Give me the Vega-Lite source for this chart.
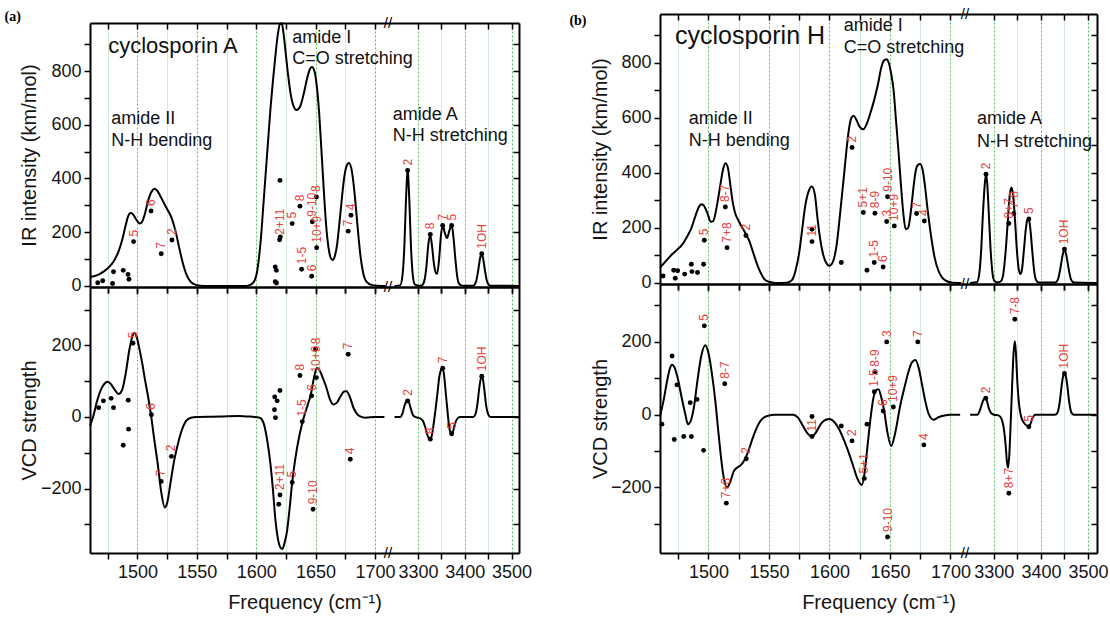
{
"$schema": "https://vega.github.io/schema/vega-lite/v6.json",
"background": "white",
"padding": {"left": 4, "top": 7, "right": 10, "bottom": 5},
"config": {
  "font": "Liberation Sans",
  "view": {"stroke": null},
  "axis": {"labelFont": "Liberation Sans", "labelFontSize": 18, "labelColor": "#151515", "titleFont": "Liberation Sans", "titleFontSize": 20, "titleFontWeight": "normal", "titleColor": "#151515", "domainColor": "#000", "domainWidth": 2, "tickColor": "#000", "tickWidth": 1.5, "tickSize": 6, "grid": false, "labelOverlap": false, "labelFlush": false, "labelBound": false}
},
"datasets": {
"curves": [
{"p":"aIR","s":"L","f":1460,"v":33},{"p":"aIR","s":"L","f":1464,"v":37},{"p":"aIR","s":"L","f":1468,"v":44},{"p":"aIR","s":"L","f":1472,"v":55},{"p":"aIR","s":"L","f":1476,"v":70},{"p":"aIR","s":"L","f":1480,"v":92},{"p":"aIR","s":"L","f":1484,"v":128},{"p":"aIR","s":"L","f":1487,"v":170},{"p":"aIR","s":"L","f":1490,"v":225},{"p":"aIR","s":"L","f":1492,"v":258},{"p":"aIR","s":"L","f":1494,"v":272},{"p":"aIR","s":"L","f":1496,"v":268},{"p":"aIR","s":"L","f":1498,"v":254},{"p":"aIR","s":"L","f":1500,"v":240},{"p":"aIR","s":"L","f":1502,"v":232},{"p":"aIR","s":"L","f":1504,"v":240},{"p":"aIR","s":"L","f":1506,"v":265},{"p":"aIR","s":"L","f":1509,"v":318},{"p":"aIR","s":"L","f":1512,"v":352},{"p":"aIR","s":"L","f":1514.5,"v":362},{"p":"aIR","s":"L","f":1517,"v":352},{"p":"aIR","s":"L","f":1520,"v":328},{"p":"aIR","s":"L","f":1523,"v":302},{"p":"aIR","s":"L","f":1526,"v":278},{"p":"aIR","s":"L","f":1529,"v":250},{"p":"aIR","s":"L","f":1532,"v":205},{"p":"aIR","s":"L","f":1535,"v":145},{"p":"aIR","s":"L","f":1538,"v":88},{"p":"aIR","s":"L","f":1541,"v":45},{"p":"aIR","s":"L","f":1544,"v":20},{"p":"aIR","s":"L","f":1548,"v":6},{"p":"aIR","s":"L","f":1553,"v":1},{"p":"aIR","s":"L","f":1560,"v":0},{"p":"aIR","s":"L","f":1590,"v":0},{"p":"aIR","s":"L","f":1594,"v":2},{"p":"aIR","s":"L","f":1598,"v":15},{"p":"aIR","s":"L","f":1601,"v":60},{"p":"aIR","s":"L","f":1604,"v":180},{"p":"aIR","s":"L","f":1606,"v":300},{"p":"aIR","s":"L","f":1608,"v":420},{"p":"aIR","s":"L","f":1610,"v":540},{"p":"aIR","s":"L","f":1612,"v":660},{"p":"aIR","s":"L","f":1614,"v":760},{"p":"aIR","s":"L","f":1616,"v":850},{"p":"aIR","s":"L","f":1618,"v":930},{"p":"aIR","s":"L","f":1620,"v":975},{"p":"aIR","s":"L","f":1621.5,"v":978},{"p":"aIR","s":"L","f":1623,"v":940},{"p":"aIR","s":"L","f":1625,"v":860},{"p":"aIR","s":"L","f":1627,"v":780},{"p":"aIR","s":"L","f":1629,"v":715},{"p":"aIR","s":"L","f":1631,"v":675},{"p":"aIR","s":"L","f":1634,"v":655},{"p":"aIR","s":"L","f":1637,"v":668},{"p":"aIR","s":"L","f":1640,"v":715},{"p":"aIR","s":"L","f":1643,"v":775},{"p":"aIR","s":"L","f":1645,"v":805},{"p":"aIR","s":"L","f":1647,"v":815},{"p":"aIR","s":"L","f":1649,"v":800},{"p":"aIR","s":"L","f":1651,"v":745},{"p":"aIR","s":"L","f":1653,"v":645},{"p":"aIR","s":"L","f":1655,"v":500},{"p":"aIR","s":"L","f":1657,"v":350},{"p":"aIR","s":"L","f":1659,"v":220},{"p":"aIR","s":"L","f":1661,"v":140},{"p":"aIR","s":"L","f":1663,"v":102},{"p":"aIR","s":"L","f":1664.5,"v":97},{"p":"aIR","s":"L","f":1666,"v":108},{"p":"aIR","s":"L","f":1668,"v":150},{"p":"aIR","s":"L","f":1670,"v":230},{"p":"aIR","s":"L","f":1672,"v":320},{"p":"aIR","s":"L","f":1674,"v":400},{"p":"aIR","s":"L","f":1676,"v":445},{"p":"aIR","s":"L","f":1678,"v":458},{"p":"aIR","s":"L","f":1680,"v":440},{"p":"aIR","s":"L","f":1682,"v":380},{"p":"aIR","s":"L","f":1684,"v":290},{"p":"aIR","s":"L","f":1686,"v":190},{"p":"aIR","s":"L","f":1688,"v":105},{"p":"aIR","s":"L","f":1690,"v":50},{"p":"aIR","s":"L","f":1693,"v":15},{"p":"aIR","s":"L","f":1697,"v":4},{"p":"aIR","s":"L","f":1702,"v":1},{"p":"aIR","s":"L","f":1709,"v":0},
{"p":"aIR","s":"R","f":3250,"v":0},{"p":"aIR","s":"R","f":3262,"v":2},{"p":"aIR","s":"R","f":3267,"v":40},{"p":"aIR","s":"R","f":3271,"v":150},{"p":"aIR","s":"R","f":3274,"v":300},{"p":"aIR","s":"R","f":3276.5,"v":400},{"p":"aIR","s":"R","f":3278,"v":432},{"p":"aIR","s":"R","f":3279.5,"v":400},{"p":"aIR","s":"R","f":3282,"v":300},{"p":"aIR","s":"R","f":3285,"v":150},{"p":"aIR","s":"R","f":3289,"v":40},{"p":"aIR","s":"R","f":3293,"v":6},{"p":"aIR","s":"R","f":3300,"v":1},{"p":"aIR","s":"R","f":3308,"v":2},{"p":"aIR","s":"R","f":3313,"v":15},{"p":"aIR","s":"R","f":3318,"v":70},{"p":"aIR","s":"R","f":3322,"v":150},{"p":"aIR","s":"R","f":3326,"v":192},{"p":"aIR","s":"R","f":3330,"v":150},{"p":"aIR","s":"R","f":3334,"v":85},{"p":"aIR","s":"R","f":3338,"v":50},{"p":"aIR","s":"R","f":3341,"v":45},{"p":"aIR","s":"R","f":3345,"v":95},{"p":"aIR","s":"R","f":3349,"v":185},{"p":"aIR","s":"R","f":3353,"v":228},{"p":"aIR","s":"R","f":3357,"v":200},{"p":"aIR","s":"R","f":3362,"v":178},{"p":"aIR","s":"R","f":3367,"v":205},{"p":"aIR","s":"R","f":3372,"v":228},{"p":"aIR","s":"R","f":3376,"v":180},{"p":"aIR","s":"R","f":3380,"v":100},{"p":"aIR","s":"R","f":3384,"v":35},{"p":"aIR","s":"R","f":3388,"v":8},{"p":"aIR","s":"R","f":3395,"v":1},{"p":"aIR","s":"R","f":3418,"v":1},{"p":"aIR","s":"R","f":3424,"v":15},{"p":"aIR","s":"R","f":3429,"v":60},{"p":"aIR","s":"R","f":3433,"v":105},{"p":"aIR","s":"R","f":3436,"v":120},{"p":"aIR","s":"R","f":3439,"v":105},{"p":"aIR","s":"R","f":3443,"v":60},{"p":"aIR","s":"R","f":3448,"v":15},{"p":"aIR","s":"R","f":3454,"v":1},{"p":"aIR","s":"R","f":3515,"v":0},
{"p":"aVCD","s":"L","f":1460,"v":-25},{"p":"aVCD","s":"L","f":1463,"v":5},{"p":"aVCD","s":"L","f":1466,"v":45},{"p":"aVCD","s":"L","f":1469,"v":75},{"p":"aVCD","s":"L","f":1472,"v":92},{"p":"aVCD","s":"L","f":1475,"v":98},{"p":"aVCD","s":"L","f":1478,"v":90},{"p":"aVCD","s":"L","f":1481,"v":75},{"p":"aVCD","s":"L","f":1484,"v":64},{"p":"aVCD","s":"L","f":1487,"v":75},{"p":"aVCD","s":"L","f":1490,"v":120},{"p":"aVCD","s":"L","f":1493,"v":185},{"p":"aVCD","s":"L","f":1496,"v":228},{"p":"aVCD","s":"L","f":1497.5,"v":235},{"p":"aVCD","s":"L","f":1499,"v":228},{"p":"aVCD","s":"L","f":1501,"v":200},{"p":"aVCD","s":"L","f":1504,"v":150},{"p":"aVCD","s":"L","f":1506,"v":110},{"p":"aVCD","s":"L","f":1509,"v":55},{"p":"aVCD","s":"L","f":1511.7,"v":-2},{"p":"aVCD","s":"L","f":1514,"v":-60},{"p":"aVCD","s":"L","f":1517,"v":-130},{"p":"aVCD","s":"L","f":1520,"v":-210},{"p":"aVCD","s":"L","f":1523,"v":-253},{"p":"aVCD","s":"L","f":1525,"v":-240},{"p":"aVCD","s":"L","f":1528,"v":-180},{"p":"aVCD","s":"L","f":1531,"v":-120},{"p":"aVCD","s":"L","f":1534,"v":-76},{"p":"aVCD","s":"L","f":1537,"v":-40},{"p":"aVCD","s":"L","f":1541,"v":-11},{"p":"aVCD","s":"L","f":1545,"v":-2},{"p":"aVCD","s":"L","f":1550,"v":0},{"p":"aVCD","s":"L","f":1570,"v":1},{"p":"aVCD","s":"L","f":1585,"v":3},{"p":"aVCD","s":"L","f":1595,"v":1},{"p":"aVCD","s":"L","f":1603,"v":-2},{"p":"aVCD","s":"L","f":1606,"v":-15},{"p":"aVCD","s":"L","f":1609,"v":-60},{"p":"aVCD","s":"L","f":1612,"v":-132},{"p":"aVCD","s":"L","f":1614,"v":-200},{"p":"aVCD","s":"L","f":1616,"v":-281},{"p":"aVCD","s":"L","f":1618,"v":-335},{"p":"aVCD","s":"L","f":1620,"v":-362},{"p":"aVCD","s":"L","f":1622,"v":-369},{"p":"aVCD","s":"L","f":1624,"v":-350},{"p":"aVCD","s":"L","f":1626,"v":-318},{"p":"aVCD","s":"L","f":1628,"v":-260},{"p":"aVCD","s":"L","f":1630.3,"v":-183},{"p":"aVCD","s":"L","f":1633,"v":-115},{"p":"aVCD","s":"L","f":1636,"v":-58},{"p":"aVCD","s":"L","f":1638,"v":-28},{"p":"aVCD","s":"L","f":1640,"v":-2},{"p":"aVCD","s":"L","f":1643,"v":30},{"p":"aVCD","s":"L","f":1646,"v":63},{"p":"aVCD","s":"L","f":1649,"v":115},{"p":"aVCD","s":"L","f":1651,"v":137},{"p":"aVCD","s":"L","f":1653,"v":132},{"p":"aVCD","s":"L","f":1656,"v":110},{"p":"aVCD","s":"L","f":1659,"v":83},{"p":"aVCD","s":"L","f":1662,"v":50},{"p":"aVCD","s":"L","f":1665,"v":35},{"p":"aVCD","s":"L","f":1668,"v":40},{"p":"aVCD","s":"L","f":1671,"v":58},{"p":"aVCD","s":"L","f":1674,"v":71},{"p":"aVCD","s":"L","f":1676,"v":72},{"p":"aVCD","s":"L","f":1679,"v":55},{"p":"aVCD","s":"L","f":1682,"v":25},{"p":"aVCD","s":"L","f":1685,"v":8},{"p":"aVCD","s":"L","f":1688,"v":1},{"p":"aVCD","s":"L","f":1692,"v":-2},{"p":"aVCD","s":"L","f":1700,"v":0},{"p":"aVCD","s":"L","f":1708,"v":0},
{"p":"aVCD","s":"R","f":3250,"v":0},{"p":"aVCD","s":"R","f":3262,"v":0},{"p":"aVCD","s":"R","f":3267,"v":10},{"p":"aVCD","s":"R","f":3271,"v":30},{"p":"aVCD","s":"R","f":3275,"v":43},{"p":"aVCD","s":"R","f":3278,"v":45},{"p":"aVCD","s":"R","f":3281,"v":40},{"p":"aVCD","s":"R","f":3285,"v":22},{"p":"aVCD","s":"R","f":3289,"v":6},{"p":"aVCD","s":"R","f":3294,"v":0},{"p":"aVCD","s":"R","f":3300,"v":-2},{"p":"aVCD","s":"R","f":3306,"v":-5},{"p":"aVCD","s":"R","f":3311,"v":-12},{"p":"aVCD","s":"R","f":3316,"v":-30},{"p":"aVCD","s":"R","f":3320,"v":-50},{"p":"aVCD","s":"R","f":3324,"v":-60},{"p":"aVCD","s":"R","f":3327,"v":-62},{"p":"aVCD","s":"R","f":3330,"v":-50},{"p":"aVCD","s":"R","f":3334,"v":-15},{"p":"aVCD","s":"R","f":3338,"v":25},{"p":"aVCD","s":"R","f":3342,"v":70},{"p":"aVCD","s":"R","f":3346,"v":115},{"p":"aVCD","s":"R","f":3350,"v":133},{"p":"aVCD","s":"R","f":3353,"v":136},{"p":"aVCD","s":"R","f":3356,"v":115},{"p":"aVCD","s":"R","f":3360,"v":60},{"p":"aVCD","s":"R","f":3364,"v":5},{"p":"aVCD","s":"R","f":3367,"v":-30},{"p":"aVCD","s":"R","f":3370,"v":-45},{"p":"aVCD","s":"R","f":3372,"v":-47},{"p":"aVCD","s":"R","f":3375,"v":-40},{"p":"aVCD","s":"R","f":3379,"v":-20},{"p":"aVCD","s":"R","f":3384,"v":-5},{"p":"aVCD","s":"R","f":3390,"v":0},{"p":"aVCD","s":"R","f":3418,"v":0},{"p":"aVCD","s":"R","f":3423,"v":8},{"p":"aVCD","s":"R","f":3427,"v":35},{"p":"aVCD","s":"R","f":3431,"v":80},{"p":"aVCD","s":"R","f":3434,"v":105},{"p":"aVCD","s":"R","f":3436,"v":114},{"p":"aVCD","s":"R","f":3439,"v":105},{"p":"aVCD","s":"R","f":3442,"v":75},{"p":"aVCD","s":"R","f":3446,"v":30},{"p":"aVCD","s":"R","f":3450,"v":8},{"p":"aVCD","s":"R","f":3455,"v":0},{"p":"aVCD","s":"R","f":3515,"v":0},
{"p":"bIR","s":"L","f":1460,"v":56},{"p":"bIR","s":"L","f":1465,"v":80},{"p":"bIR","s":"L","f":1470,"v":104},{"p":"bIR","s":"L","f":1474,"v":120},{"p":"bIR","s":"L","f":1478,"v":137},{"p":"bIR","s":"L","f":1482,"v":165},{"p":"bIR","s":"L","f":1486,"v":200},{"p":"bIR","s":"L","f":1489,"v":240},{"p":"bIR","s":"L","f":1492,"v":275},{"p":"bIR","s":"L","f":1494,"v":286},{"p":"bIR","s":"L","f":1496,"v":282},{"p":"bIR","s":"L","f":1499,"v":255},{"p":"bIR","s":"L","f":1502,"v":222},{"p":"bIR","s":"L","f":1504,"v":225},{"p":"bIR","s":"L","f":1507,"v":280},{"p":"bIR","s":"L","f":1510,"v":360},{"p":"bIR","s":"L","f":1512,"v":410},{"p":"bIR","s":"L","f":1514,"v":435},{"p":"bIR","s":"L","f":1516,"v":420},{"p":"bIR","s":"L","f":1518,"v":360},{"p":"bIR","s":"L","f":1520,"v":295},{"p":"bIR","s":"L","f":1522,"v":255},{"p":"bIR","s":"L","f":1525,"v":225},{"p":"bIR","s":"L","f":1528,"v":200},{"p":"bIR","s":"L","f":1531,"v":178},{"p":"bIR","s":"L","f":1534,"v":150},{"p":"bIR","s":"L","f":1537,"v":110},{"p":"bIR","s":"L","f":1540,"v":70},{"p":"bIR","s":"L","f":1543,"v":38},{"p":"bIR","s":"L","f":1546,"v":15},{"p":"bIR","s":"L","f":1550,"v":4},{"p":"bIR","s":"L","f":1555,"v":0},{"p":"bIR","s":"L","f":1565,"v":1},{"p":"bIR","s":"L","f":1569,"v":10},{"p":"bIR","s":"L","f":1572,"v":45},{"p":"bIR","s":"L","f":1575,"v":110},{"p":"bIR","s":"L","f":1577,"v":177},{"p":"bIR","s":"L","f":1580,"v":280},{"p":"bIR","s":"L","f":1583,"v":335},{"p":"bIR","s":"L","f":1585.5,"v":350},{"p":"bIR","s":"L","f":1588,"v":320},{"p":"bIR","s":"L","f":1590,"v":240},{"p":"bIR","s":"L","f":1592,"v":170},{"p":"bIR","s":"L","f":1595,"v":100},{"p":"bIR","s":"L","f":1598,"v":68},{"p":"bIR","s":"L","f":1600,"v":62},{"p":"bIR","s":"L","f":1603,"v":78},{"p":"bIR","s":"L","f":1606,"v":140},{"p":"bIR","s":"L","f":1609,"v":260},{"p":"bIR","s":"L","f":1612,"v":390},{"p":"bIR","s":"L","f":1614,"v":480},{"p":"bIR","s":"L","f":1616,"v":555},{"p":"bIR","s":"L","f":1618,"v":598},{"p":"bIR","s":"L","f":1620,"v":607},{"p":"bIR","s":"L","f":1622,"v":595},{"p":"bIR","s":"L","f":1625,"v":567},{"p":"bIR","s":"L","f":1628,"v":558},{"p":"bIR","s":"L","f":1631,"v":580},{"p":"bIR","s":"L","f":1634,"v":620},{"p":"bIR","s":"L","f":1637,"v":665},{"p":"bIR","s":"L","f":1640,"v":720},{"p":"bIR","s":"L","f":1643,"v":785},{"p":"bIR","s":"L","f":1645,"v":808},{"p":"bIR","s":"L","f":1647,"v":813},{"p":"bIR","s":"L","f":1649,"v":800},{"p":"bIR","s":"L","f":1651,"v":760},{"p":"bIR","s":"L","f":1653,"v":700},{"p":"bIR","s":"L","f":1655,"v":590},{"p":"bIR","s":"L","f":1657,"v":480},{"p":"bIR","s":"L","f":1659,"v":360},{"p":"bIR","s":"L","f":1661,"v":255},{"p":"bIR","s":"L","f":1663,"v":195},{"p":"bIR","s":"L","f":1665,"v":200},{"p":"bIR","s":"L","f":1667,"v":250},{"p":"bIR","s":"L","f":1669,"v":330},{"p":"bIR","s":"L","f":1671,"v":400},{"p":"bIR","s":"L","f":1673,"v":428},{"p":"bIR","s":"L","f":1675,"v":432},{"p":"bIR","s":"L","f":1677,"v":410},{"p":"bIR","s":"L","f":1679,"v":350},{"p":"bIR","s":"L","f":1681,"v":270},{"p":"bIR","s":"L","f":1683,"v":200},{"p":"bIR","s":"L","f":1685,"v":140},{"p":"bIR","s":"L","f":1687,"v":90},{"p":"bIR","s":"L","f":1690,"v":45},{"p":"bIR","s":"L","f":1693,"v":20},{"p":"bIR","s":"L","f":1697,"v":6},{"p":"bIR","s":"L","f":1702,"v":1},{"p":"bIR","s":"L","f":1709,"v":0},
{"p":"bIR","s":"R","f":3250,"v":0},{"p":"bIR","s":"R","f":3264,"v":2},{"p":"bIR","s":"R","f":3269,"v":30},{"p":"bIR","s":"R","f":3273,"v":110},{"p":"bIR","s":"R","f":3277,"v":250},{"p":"bIR","s":"R","f":3281,"v":360},{"p":"bIR","s":"R","f":3283.6,"v":395},{"p":"bIR","s":"R","f":3286,"v":365},{"p":"bIR","s":"R","f":3289,"v":270},{"p":"bIR","s":"R","f":3293,"v":130},{"p":"bIR","s":"R","f":3297,"v":40},{"p":"bIR","s":"R","f":3301,"v":8},{"p":"bIR","s":"R","f":3308,"v":2},{"p":"bIR","s":"R","f":3315,"v":6},{"p":"bIR","s":"R","f":3320,"v":30},{"p":"bIR","s":"R","f":3325,"v":110},{"p":"bIR","s":"R","f":3330,"v":230},{"p":"bIR","s":"R","f":3334,"v":320},{"p":"bIR","s":"R","f":3337.5,"v":347},{"p":"bIR","s":"R","f":3341,"v":320},{"p":"bIR","s":"R","f":3345,"v":230},{"p":"bIR","s":"R","f":3349,"v":120},{"p":"bIR","s":"R","f":3353,"v":50},{"p":"bIR","s":"R","f":3356.7,"v":32},{"p":"bIR","s":"R","f":3360,"v":50},{"p":"bIR","s":"R","f":3364,"v":120},{"p":"bIR","s":"R","f":3368,"v":195},{"p":"bIR","s":"R","f":3371,"v":228},{"p":"bIR","s":"R","f":3374.5,"v":232},{"p":"bIR","s":"R","f":3378,"v":190},{"p":"bIR","s":"R","f":3382,"v":110},{"p":"bIR","s":"R","f":3386,"v":40},{"p":"bIR","s":"R","f":3390,"v":10},{"p":"bIR","s":"R","f":3396,"v":1},{"p":"bIR","s":"R","f":3430,"v":1},{"p":"bIR","s":"R","f":3436,"v":12},{"p":"bIR","s":"R","f":3441,"v":50},{"p":"bIR","s":"R","f":3446,"v":100},{"p":"bIR","s":"R","f":3450,"v":122},{"p":"bIR","s":"R","f":3454,"v":100},{"p":"bIR","s":"R","f":3459,"v":50},{"p":"bIR","s":"R","f":3464,"v":12},{"p":"bIR","s":"R","f":3470,"v":1},{"p":"bIR","s":"R","f":3518,"v":0},
{"p":"bVCD","s":"L","f":1460,"v":-5},{"p":"bVCD","s":"L","f":1463,"v":40},{"p":"bVCD","s":"L","f":1466,"v":95},{"p":"bVCD","s":"L","f":1468,"v":125},{"p":"bVCD","s":"L","f":1470,"v":137},{"p":"bVCD","s":"L","f":1472,"v":130},{"p":"bVCD","s":"L","f":1475,"v":95},{"p":"bVCD","s":"L","f":1478,"v":45},{"p":"bVCD","s":"L","f":1481,"v":0},{"p":"bVCD","s":"L","f":1483,"v":-26},{"p":"bVCD","s":"L","f":1485,"v":-20},{"p":"bVCD","s":"L","f":1488,"v":20},{"p":"bVCD","s":"L","f":1491,"v":95},{"p":"bVCD","s":"L","f":1494,"v":160},{"p":"bVCD","s":"L","f":1497.4,"v":191},{"p":"bVCD","s":"L","f":1500,"v":170},{"p":"bVCD","s":"L","f":1503,"v":110},{"p":"bVCD","s":"L","f":1505.7,"v":38},{"p":"bVCD","s":"L","f":1508,"v":-40},{"p":"bVCD","s":"L","f":1510,"v":-105},{"p":"bVCD","s":"L","f":1512,"v":-160},{"p":"bVCD","s":"L","f":1515.4,"v":-200},{"p":"bVCD","s":"L","f":1518,"v":-185},{"p":"bVCD","s":"L","f":1521,"v":-155},{"p":"bVCD","s":"L","f":1524,"v":-145},{"p":"bVCD","s":"L","f":1527,"v":-138},{"p":"bVCD","s":"L","f":1530,"v":-123},{"p":"bVCD","s":"L","f":1533,"v":-100},{"p":"bVCD","s":"L","f":1536,"v":-70},{"p":"bVCD","s":"L","f":1539,"v":-43},{"p":"bVCD","s":"L","f":1542,"v":-22},{"p":"bVCD","s":"L","f":1545,"v":-10},{"p":"bVCD","s":"L","f":1550,"v":-2},{"p":"bVCD","s":"L","f":1555,"v":0},{"p":"bVCD","s":"L","f":1570,"v":0},{"p":"bVCD","s":"L","f":1574,"v":-8},{"p":"bVCD","s":"L","f":1578,"v":-30},{"p":"bVCD","s":"L","f":1582,"v":-52},{"p":"bVCD","s":"L","f":1585.6,"v":-60},{"p":"bVCD","s":"L","f":1589,"v":-48},{"p":"bVCD","s":"L","f":1593,"v":-25},{"p":"bVCD","s":"L","f":1597,"v":-14},{"p":"bVCD","s":"L","f":1600,"v":-12},{"p":"bVCD","s":"L","f":1604,"v":-20},{"p":"bVCD","s":"L","f":1608,"v":-40},{"p":"bVCD","s":"L","f":1612,"v":-70},{"p":"bVCD","s":"L","f":1616,"v":-105},{"p":"bVCD","s":"L","f":1620,"v":-145},{"p":"bVCD","s":"L","f":1623,"v":-175},{"p":"bVCD","s":"L","f":1626.8,"v":-193},{"p":"bVCD","s":"L","f":1629,"v":-160},{"p":"bVCD","s":"L","f":1631,"v":-100},{"p":"bVCD","s":"L","f":1633.7,"v":-17},{"p":"bVCD","s":"L","f":1636,"v":40},{"p":"bVCD","s":"L","f":1638,"v":65},{"p":"bVCD","s":"L","f":1640.5,"v":70},{"p":"bVCD","s":"L","f":1643,"v":45},{"p":"bVCD","s":"L","f":1645,"v":15},{"p":"bVCD","s":"L","f":1648,"v":-50},{"p":"bVCD","s":"L","f":1651,"v":-86},{"p":"bVCD","s":"L","f":1654,"v":-55},{"p":"bVCD","s":"L","f":1658.5,"v":25},{"p":"bVCD","s":"L","f":1662,"v":75},{"p":"bVCD","s":"L","f":1665.5,"v":120},{"p":"bVCD","s":"L","f":1668,"v":143},{"p":"bVCD","s":"L","f":1671,"v":150},{"p":"bVCD","s":"L","f":1674,"v":125},{"p":"bVCD","s":"L","f":1676.5,"v":83},{"p":"bVCD","s":"L","f":1679,"v":40},{"p":"bVCD","s":"L","f":1682,"v":2},{"p":"bVCD","s":"L","f":1686,"v":-14},{"p":"bVCD","s":"L","f":1690,"v":-7},{"p":"bVCD","s":"L","f":1695,"v":-2},{"p":"bVCD","s":"L","f":1700,"v":0},{"p":"bVCD","s":"L","f":1708,"v":0},
{"p":"bVCD","s":"R","f":3250,"v":0},{"p":"bVCD","s":"R","f":3265,"v":0},{"p":"bVCD","s":"R","f":3270,"v":10},{"p":"bVCD","s":"R","f":3275,"v":30},{"p":"bVCD","s":"R","f":3279,"v":43},{"p":"bVCD","s":"R","f":3282,"v":45},{"p":"bVCD","s":"R","f":3285,"v":40},{"p":"bVCD","s":"R","f":3289,"v":20},{"p":"bVCD","s":"R","f":3294,"v":5},{"p":"bVCD","s":"R","f":3300,"v":0},{"p":"bVCD","s":"R","f":3310,"v":-2},{"p":"bVCD","s":"R","f":3316,"v":-10},{"p":"bVCD","s":"R","f":3321,"v":-35},{"p":"bVCD","s":"R","f":3325,"v":-80},{"p":"bVCD","s":"R","f":3328,"v":-130},{"p":"bVCD","s":"R","f":3330.4,"v":-146},{"p":"bVCD","s":"R","f":3333,"v":-110},{"p":"bVCD","s":"R","f":3336,"v":-20},{"p":"bVCD","s":"R","f":3339,"v":80},{"p":"bVCD","s":"R","f":3342,"v":170},{"p":"bVCD","s":"R","f":3344.7,"v":202},{"p":"bVCD","s":"R","f":3347,"v":170},{"p":"bVCD","s":"R","f":3350,"v":90},{"p":"bVCD","s":"R","f":3354,"v":25},{"p":"bVCD","s":"R","f":3358,"v":-5},{"p":"bVCD","s":"R","f":3364,"v":-22},{"p":"bVCD","s":"R","f":3370,"v":-30},{"p":"bVCD","s":"R","f":3374.5,"v":-31},{"p":"bVCD","s":"R","f":3378,"v":-25},{"p":"bVCD","s":"R","f":3382,"v":-10},{"p":"bVCD","s":"R","f":3388,"v":0},{"p":"bVCD","s":"R","f":3430,"v":0},{"p":"bVCD","s":"R","f":3435,"v":5},{"p":"bVCD","s":"R","f":3440,"v":35},{"p":"bVCD","s":"R","f":3444,"v":80},{"p":"bVCD","s":"R","f":3447,"v":105},{"p":"bVCD","s":"R","f":3450,"v":113},{"p":"bVCD","s":"R","f":3453,"v":105},{"p":"bVCD","s":"R","f":3456,"v":80},{"p":"bVCD","s":"R","f":3460,"v":35},{"p":"bVCD","s":"R","f":3465,"v":5},{"p":"bVCD","s":"R","f":3470,"v":0},{"p":"bVCD","s":"R","f":3518,"v":0}
],
"dots": [
{"p":"aIR","f":1466.5,"v":12,"l":""},{"p":"aIR","f":1470.7,"v":19,"l":""},{"p":"aIR","f":1479,"v":9,"l":""},{"p":"aIR","f":1479.8,"v":53,"l":""},{"p":"aIR","f":1488,"v":58,"l":""},{"p":"aIR","f":1492,"v":43,"l":""},{"p":"aIR","f":1492.8,"v":25,"l":""},{"p":"aIR","f":1496.7,"v":165,"l":"5"},{"p":"aIR","f":1511.4,"v":279,"l":"6"},{"p":"aIR","f":1520,"v":120,"l":"7"},{"p":"aIR","f":1529,"v":171,"l":"2"},{"p":"aIR","f":1616,"v":71,"l":""},{"p":"aIR","f":1617,"v":58,"l":""},{"p":"aIR","f":1616,"v":16,"l":""},{"p":"aIR","f":1617,"v":11,"l":""},{"p":"aIR","f":1620.3,"v":182,"l":""},{"p":"aIR","f":1619.7,"v":172,"l":"2+11"},{"p":"aIR","f":1620,"v":393,"l":""},{"p":"aIR","f":1630.3,"v":232,"l":"5"},{"p":"aIR","f":1636.8,"v":297,"l":"8"},{"p":"aIR","f":1638.2,"v":62,"l":"1-5"},{"p":"aIR","f":1646.7,"v":36,"l":"6"},{"p":"aIR","f":1647.3,"v":239,"l":"9-10"},{"p":"aIR","f":1650.7,"v":331,"l":"8"},{"p":"aIR","f":1650.9,"v":142,"l":"10+9"},{"p":"aIR","f":1677.5,"v":204,"l":"7"},{"p":"aIR","f":1679.8,"v":263,"l":"4"},{"p":"aIR","f":3278,"v":430,"l":"2"},{"p":"aIR","f":3326.4,"v":192,"l":"8"},{"p":"aIR","f":3352.8,"v":225,"l":"7"},{"p":"aIR","f":3372,"v":225,"l":"5"},{"p":"aIR","f":3436.4,"v":120,"l":"1OH"},
{"p":"aVCD","f":1467.3,"v":26,"l":""},{"p":"aVCD","f":1471.3,"v":45,"l":""},{"p":"aVCD","f":1477.8,"v":52,"l":""},{"p":"aVCD","f":1479.8,"v":26,"l":""},{"p":"aVCD","f":1488,"v":-79,"l":""},{"p":"aVCD","f":1492.2,"v":47,"l":""},{"p":"aVCD","f":1492.5,"v":-34,"l":""},{"p":"aVCD","f":1496.2,"v":206,"l":"5"},{"p":"aVCD","f":1511.7,"v":6,"l":"6"},{"p":"aVCD","f":1520,"v":-180,"l":"7"},{"p":"aVCD","f":1528.6,"v":-110,"l":"2"},{"p":"aVCD","f":1615.4,"v":20,"l":""},{"p":"aVCD","f":1616.2,"v":-2,"l":""},{"p":"aVCD","f":1615.6,"v":56,"l":""},{"p":"aVCD","f":1617.6,"v":45,"l":""},{"p":"aVCD","f":1620,"v":74,"l":""},{"p":"aVCD","f":1619,"v":-244,"l":""},{"p":"aVCD","f":1620,"v":-218,"l":"2+11"},{"p":"aVCD","f":1630.3,"v":-183,"l":"5"},{"p":"aVCD","f":1636.8,"v":116,"l":"8"},{"p":"aVCD","f":1638.8,"v":-13,"l":"1-5"},{"p":"aVCD","f":1646.7,"v":59,"l":"6"},{"p":"aVCD","f":1647.9,"v":-258,"l":"9-10"},{"p":"aVCD","f":1650.7,"v":110,"l":"10+9"},{"p":"aVCD","f":1650,"v":189,"l":"8"},{"p":"aVCD","f":1677.5,"v":175,"l":"7"},{"p":"aVCD","f":1679.2,"v":-118,"l":"4"},{"p":"aVCD","f":3278,"v":45,"l":"2"},{"p":"aVCD","f":3326.4,"v":-62,"l":"8"},{"p":"aVCD","f":3353,"v":136,"l":"7"},{"p":"aVCD","f":3372,"v":-47,"l":"5"},{"p":"aVCD","f":3436.4,"v":114,"l":"1OH"},
{"p":"bIR","f":1462.5,"v":25,"l":""},{"p":"bIR","f":1471.3,"v":46,"l":""},{"p":"bIR","f":1472.6,"v":17,"l":""},{"p":"bIR","f":1474.6,"v":44,"l":""},{"p":"bIR","f":1480.4,"v":32,"l":""},{"p":"bIR","f":1485.9,"v":68,"l":""},{"p":"bIR","f":1486.4,"v":41,"l":""},{"p":"bIR","f":1491,"v":38,"l":""},{"p":"bIR","f":1496,"v":68,"l":""},{"p":"bIR","f":1496.6,"v":155,"l":"5"},{"p":"bIR","f":1514,"v":276,"l":"8-7"},{"p":"bIR","f":1515.4,"v":128,"l":"7+8"},{"p":"bIR","f":1531,"v":172,"l":"2"},{"p":"bIR","f":1585.6,"v":195,"l":""},{"p":"bIR","f":1585.6,"v":150,"l":"11"},{"p":"bIR","f":1609.8,"v":74,"l":""},{"p":"bIR","f":1618.7,"v":492,"l":"2"},{"p":"bIR","f":1628,"v":256,"l":"5+1"},{"p":"bIR","f":1631,"v":46,"l":""},{"p":"bIR","f":1637,"v":74,"l":"1-5"},{"p":"bIR","f":1637.6,"v":253,"l":"8-9"},{"p":"bIR","f":1644.4,"v":58,"l":"6"},{"p":"bIR","f":1648,"v":313,"l":"9-10"},{"p":"bIR","f":1647.3,"v":223,"l":"3"},{"p":"bIR","f":1653.6,"v":207,"l":"10+9"},{"p":"bIR","f":1672,"v":252,"l":"7"},{"p":"bIR","f":1678.4,"v":225,"l":"4"},{"p":"bIR","f":3283.6,"v":395,"l":"2"},{"p":"bIR","f":3332,"v":216,"l":"8+7"},{"p":"bIR","f":3342.5,"v":252,"l":"7-8"},{"p":"bIR","f":3374.5,"v":232,"l":"5"},{"p":"bIR","f":3450,"v":122,"l":"1OH"},
{"p":"bVCD","f":1461.6,"v":-26,"l":""},{"p":"bVCD","f":1470,"v":161,"l":""},{"p":"bVCD","f":1471.8,"v":-68,"l":""},{"p":"bVCD","f":1474,"v":82,"l":""},{"p":"bVCD","f":1479.6,"v":-60,"l":""},{"p":"bVCD","f":1485,"v":33,"l":""},{"p":"bVCD","f":1485.9,"v":-60,"l":""},{"p":"bVCD","f":1490.6,"v":42,"l":""},{"p":"bVCD","f":1496,"v":-98,"l":""},{"p":"bVCD","f":1496.6,"v":244,"l":"5"},{"p":"bVCD","f":1513.5,"v":85,"l":"8-7"},{"p":"bVCD","f":1514.8,"v":-243,"l":"7+8"},{"p":"bVCD","f":1531.3,"v":-121,"l":"2"},{"p":"bVCD","f":1585.6,"v":-5,"l":""},{"p":"bVCD","f":1585.6,"v":-60,"l":"11"},{"p":"bVCD","f":1609.8,"v":-31,"l":""},{"p":"bVCD","f":1618.7,"v":-72,"l":"2"},{"p":"bVCD","f":1628.8,"v":-175,"l":"5+1"},{"p":"bVCD","f":1631,"v":-26,"l":""},{"p":"bVCD","f":1637.1,"v":63,"l":"1-5"},{"p":"bVCD","f":1637.6,"v":118,"l":"8-9"},{"p":"bVCD","f":1644.4,"v":10,"l":"6"},{"p":"bVCD","f":1647.3,"v":200,"l":"3"},{"p":"bVCD","f":1652.8,"v":21,"l":"10+9"},{"p":"bVCD","f":1648,"v":-336,"l":"9-10"},{"p":"bVCD","f":1673,"v":200,"l":"7"},{"p":"bVCD","f":1678,"v":-83,"l":"4"},{"p":"bVCD","f":3283,"v":45,"l":"2"},{"p":"bVCD","f":3332,"v":-216,"l":"8+7"},{"p":"bVCD","f":3344.7,"v":262,"l":"7-8"},{"p":"bVCD","f":3374.5,"v":-33,"l":"5"},{"p":"bVCD","f":3450,"v":113,"l":"1OH"}
],
"notes": [
{"p":"aIR","f":1475.3,"v":868,"t":"cyclosporin A","k":"title"},
{"p":"aIR","f":1477.8,"v":603,"t":"amide II","k":"note"},
{"p":"aIR","f":1477.8,"v":521,"t":"N-H bending","k":"note"},
{"p":"aIR","f":1630.3,"v":905,"t":"amide I","k":"note"},
{"p":"aIR","f":1630.3,"v":825,"t":"C=O stretching","k":"note"},
{"p":"aIR","f":3246,"v":616,"t":"amide A","k":"note"},
{"p":"aIR","f":3246,"v":540,"t":"N-H stretching","k":"note"},
{"p":"bIR","f":1472.4,"v":867,"t":"cyclosporin H","k":"title"},
{"p":"bIR","f":1483.7,"v":578,"t":"amide II","k":"note"},
{"p":"bIR","f":1483.7,"v":497,"t":"N-H bending","k":"note"},
{"p":"bIR","f":1611.8,"v":917,"t":"amide I","k":"note"},
{"p":"bIR","f":1611.8,"v":836,"t":"C=O stretching","k":"note"},
{"p":"bIR","f":3264.5,"v":576,"t":"amide A","k":"note"},
{"p":"bIR","f":3264.5,"v":494,"t":"N-H stretching","k":"note"}
],
"breaks": [
{"p":"aIR","f":1711,"v":979},{"p":"aIR","f":1711,"v":-4},{"p":"aVCD","f":1711,"v":-380},
{"p":"bIR","f":1712,"v":977},{"p":"bIR","f":1712,"v":-4},{"p":"bVCD","f":1712,"v":-380}
],
"tags": [
{"p":"aIR","f":1394.9,"v":1001,"t":"(a)"},
{"p":"bIR","f":1392.2,"v":951,"t":"(b)"}
]
},
"hconcat": [
 {"vconcat": [
   {"width": 429, "height": 9, "data": {"values": [{"a": 1}]}, "mark": {"type": "text", "text": " ", "fontSize": 1}},
   {"width": 429, "height": 264,
    "layer": [
     {"data": {"name": "curves"}, "transform": [{"filter": "datum.p == 'aIR'"}],
      "mark": {"type": "line", "color": "#000", "strokeWidth": 2, "interpolate": "monotone"},
      "encoding": {
       "x": {"field": "f", "type": "quantitative", "scale": {"domain": [1460, 1711, 3236, 3516], "range": [0, 298, 298, 429], "nice": false, "zero": false},
             "axis": {"orient": "bottom", "values": [1475,1500,1525,1550,1575,1600,1625,1650,1675,1700,3300,3350,3400,3450,3500], "labels": false, "title": null, "tickSize": 7, "grid": true,
                      "gridColor": {"condition": {"test": "datum.value < 2000 ? datum.value % 50 == 0 : datum.value % 100 == 0", "value": "#5cbf5c"}, "value": "#d3e9d3"},
                      "gridDash": {"condition": {"test": "datum.value < 2000 ? datum.value % 50 == 0 : datum.value % 100 == 0", "value": [2, 2]}, "value": []}}},
       "y": {"field": "v", "type": "quantitative", "scale": {"domain": [-4, 979], "nice": false, "zero": false},
             "axis": {"orient": "left", "values": [0,100,200,300,400,500,600,700,800,900], "format": "d", "labelExpr": "datum.value % 200 == 0 ? datum.label : ''", "title": "IR intensity (km/mol)", "titleX": -61, "titleBaseline": "middle", "labelPadding": 3}},
       "detail": {"field": "s"}}},
     {"data": {"name": "dots"}, "transform": [{"filter": "datum.p == 'aIR'"}],
      "mark": {"type": "circle", "size": 24, "color": "#000", "opacity": 1},
      "encoding": {
       "x": {"field": "f", "type": "quantitative", "axis": {"orient": "top", "values": [1475,1500,1525,1550,1575,1600,1625,1650,1675,1700,3300,3350,3400,3450,3500], "labels": false, "title": null, "tickSize": -6}},
       "y": {"field": "v", "type": "quantitative", "axis": {"orient": "right", "values": [0,100,200,300,400,500,600,700,800,900], "labels": false, "title": null, "tickSize": -6}}}},
     {"data": {"name": "dots"}, "transform": [{"filter": "datum.p == 'aIR' && datum.l != ''"}],
      "mark": {"type": "text", "angle": 270, "align": "left", "baseline": "middle", "dx": 5, "fontSize": 12, "color": "#e4413f"},
      "encoding": {"x": {"field": "f", "type": "quantitative", "axis": null}, "y": {"field": "v", "type": "quantitative", "axis": null}, "text": {"field": "l"}}},
     {"data": {"name": "notes"}, "transform": [{"filter": "datum.p == 'aIR' && datum.k == 'title'"}],
      "mark": {"type": "text", "align": "left", "baseline": "alphabetic", "fontSize": 22, "color": "#111"},
      "encoding": {"x": {"field": "f", "type": "quantitative", "axis": null}, "y": {"field": "v", "type": "quantitative", "axis": null}, "text": {"field": "t"}}},
     {"data": {"name": "notes"}, "transform": [{"filter": "datum.p == 'aIR' && datum.k == 'note'"}],
      "mark": {"type": "text", "align": "left", "baseline": "alphabetic", "fontSize": 18, "color": "#111"},
      "encoding": {"x": {"field": "f", "type": "quantitative", "axis": null}, "y": {"field": "v", "type": "quantitative", "axis": null}, "text": {"field": "t"}}},
     {"data": {"name": "breaks"}, "transform": [{"filter": "datum.p == 'aIR'"}],
      "mark": {"type": "text", "text": "//", "align": "center", "baseline": "middle", "fontSize": 15, "color": "#000"},
      "encoding": {"x": {"field": "f", "type": "quantitative", "axis": null}, "y": {"field": "v", "type": "quantitative", "axis": null}}},
     {"data": {"name": "tags"}, "transform": [{"filter": "datum.p == 'aIR'"}],
      "mark": {"type": "text", "align": "center", "baseline": "middle", "fontSize": 14, "font": "Liberation Serif", "fontWeight": "bold", "color": "#000"},
      "encoding": {"x": {"field": "f", "type": "quantitative", "axis": null}, "y": {"field": "v", "type": "quantitative", "axis": null}, "text": {"field": "t"}}}
    ],
    "resolve": {"axis": {"x": "independent", "y": "independent"}}},
   {"width": 429, "height": 266,
    "layer": [
     {"data": {"name": "curves"}, "transform": [{"filter": "datum.p == 'aVCD'"}],
      "mark": {"type": "line", "color": "#000", "strokeWidth": 2, "interpolate": "monotone"},
      "encoding": {
       "x": {"field": "f", "type": "quantitative", "scale": {"domain": [1460, 1711, 3236, 3516], "range": [0, 298, 298, 429], "nice": false, "zero": false},
             "axis": {"orient": "bottom", "values": [1475,1500,1525,1550,1575,1600,1625,1650,1675,1700,3300,3350,3400,3450,3500], "format": "d", "labelExpr": "(datum.value < 2000 ? datum.value % 50 == 0 : datum.value % 100 == 0) ? datum.label : ''", "title": "Frequency (cm⁻¹)", "titleY": 49, "titleBaseline": "middle", "labelPadding": 4, "grid": true,
                      "gridColor": {"condition": {"test": "datum.value < 2000 ? datum.value % 50 == 0 : datum.value % 100 == 0", "value": "#5cbf5c"}, "value": "#d3e9d3"},
                      "gridDash": {"condition": {"test": "datum.value < 2000 ? datum.value % 50 == 0 : datum.value % 100 == 0", "value": [2, 2]}, "value": []}}},
       "y": {"field": "v", "type": "quantitative", "scale": {"domain": [-380, 363], "nice": false, "zero": false},
             "axis": {"orient": "left", "values": [-300,-200,-100,0,100,200,300], "format": "d", "labelExpr": "datum.value % 200 == 0 ? datum.label : ''", "title": "VCD strength", "titleX": -61, "titleBaseline": "middle", "labelPadding": 3}},
       "detail": {"field": "s"}}},
     {"data": {"name": "dots"}, "transform": [{"filter": "datum.p == 'aVCD'"}],
      "mark": {"type": "circle", "size": 24, "color": "#000", "opacity": 1},
      "encoding": {
       "x": {"field": "f", "type": "quantitative", "axis": {"orient": "top", "values": [1475,1500,1525,1550,1575,1600,1625,1650,1675,1700,3300,3350,3400,3450,3500], "labels": false, "title": null, "tickSize": -6}},
       "y": {"field": "v", "type": "quantitative", "axis": {"orient": "right", "values": [-300,-200,-100,0,100,200,300], "labels": false, "title": null, "tickSize": -6}}}},
     {"data": {"name": "dots"}, "transform": [{"filter": "datum.p == 'aVCD' && datum.l != ''"}],
      "mark": {"type": "text", "angle": 270, "align": "left", "baseline": "middle", "dx": 5, "fontSize": 12, "color": "#e4413f"},
      "encoding": {"x": {"field": "f", "type": "quantitative", "axis": null}, "y": {"field": "v", "type": "quantitative", "axis": null}, "text": {"field": "l"}}},
     {"data": {"name": "breaks"}, "transform": [{"filter": "datum.p == 'aVCD'"}],
      "mark": {"type": "text", "text": "//", "align": "center", "baseline": "middle", "fontSize": 15, "color": "#000"},
      "encoding": {"x": {"field": "f", "type": "quantitative", "axis": null}, "y": {"field": "v", "type": "quantitative", "axis": null}}}
    ],
    "resolve": {"axis": {"x": "independent", "y": "independent"}}}
  ], "spacing": 0, "bounds": "flush"},
 {"vconcat": [
   {"width": 437, "height": 270,
    "layer": [
     {"data": {"name": "curves"}, "transform": [{"filter": "datum.p == 'bIR'"}],
      "mark": {"type": "line", "color": "#000", "strokeWidth": 2, "interpolate": "monotone"},
      "encoding": {
       "x": {"field": "f", "type": "quantitative", "scale": {"domain": [1460, 1712, 3239, 3519], "range": [0, 305, 305, 437], "nice": false, "zero": false},
             "axis": {"orient": "bottom", "values": [1475,1500,1525,1550,1575,1600,1625,1650,1675,1700,3300,3350,3400,3450,3500], "labels": false, "title": null, "tickSize": 7, "grid": true,
                      "gridColor": {"condition": {"test": "datum.value < 2000 ? datum.value % 50 == 0 : datum.value % 100 == 0", "value": "#5cbf5c"}, "value": "#d3e9d3"},
                      "gridDash": {"condition": {"test": "datum.value < 2000 ? datum.value % 50 == 0 : datum.value % 100 == 0", "value": [2, 2]}, "value": []}}},
       "y": {"field": "v", "type": "quantitative", "scale": {"domain": [-4, 977], "nice": false, "zero": false},
             "axis": {"orient": "left", "values": [0,100,200,300,400,500,600,700,800,900], "format": "d", "labelExpr": "datum.value % 200 == 0 ? datum.label : ''", "title": "IR intensity (km/mol)", "titleX": -60, "titleBaseline": "middle", "labelPadding": 3}},
       "detail": {"field": "s"}}},
     {"data": {"name": "dots"}, "transform": [{"filter": "datum.p == 'bIR'"}],
      "mark": {"type": "circle", "size": 24, "color": "#000", "opacity": 1},
      "encoding": {
       "x": {"field": "f", "type": "quantitative", "axis": {"orient": "top", "values": [1475,1500,1525,1550,1575,1600,1625,1650,1675,1700,3300,3350,3400,3450,3500], "labels": false, "title": null, "tickSize": -6}},
       "y": {"field": "v", "type": "quantitative", "axis": {"orient": "right", "values": [0,100,200,300,400,500,600,700,800,900], "labels": false, "title": null, "tickSize": -6}}}},
     {"data": {"name": "dots"}, "transform": [{"filter": "datum.p == 'bIR' && datum.l != ''"}],
      "mark": {"type": "text", "angle": 270, "align": "left", "baseline": "middle", "dx": 5, "fontSize": 12, "color": "#e4413f"},
      "encoding": {"x": {"field": "f", "type": "quantitative", "axis": null}, "y": {"field": "v", "type": "quantitative", "axis": null}, "text": {"field": "l"}}},
     {"data": {"name": "notes"}, "transform": [{"filter": "datum.p == 'bIR' && datum.k == 'title'"}],
      "mark": {"type": "text", "align": "left", "baseline": "alphabetic", "fontSize": 25, "color": "#111"},
      "encoding": {"x": {"field": "f", "type": "quantitative", "axis": null}, "y": {"field": "v", "type": "quantitative", "axis": null}, "text": {"field": "t"}}},
     {"data": {"name": "notes"}, "transform": [{"filter": "datum.p == 'bIR' && datum.k == 'note'"}],
      "mark": {"type": "text", "align": "left", "baseline": "alphabetic", "fontSize": 18, "color": "#111"},
      "encoding": {"x": {"field": "f", "type": "quantitative", "axis": null}, "y": {"field": "v", "type": "quantitative", "axis": null}, "text": {"field": "t"}}},
     {"data": {"name": "breaks"}, "transform": [{"filter": "datum.p == 'bIR'"}],
      "mark": {"type": "text", "text": "//", "align": "center", "baseline": "middle", "fontSize": 15, "color": "#000"},
      "encoding": {"x": {"field": "f", "type": "quantitative", "axis": null}, "y": {"field": "v", "type": "quantitative", "axis": null}}},
     {"data": {"name": "tags"}, "transform": [{"filter": "datum.p == 'bIR'"}],
      "mark": {"type": "text", "align": "center", "baseline": "middle", "fontSize": 14, "font": "Liberation Serif", "fontWeight": "bold", "color": "#000"},
      "encoding": {"x": {"field": "f", "type": "quantitative", "axis": null}, "y": {"field": "v", "type": "quantitative", "axis": null}, "text": {"field": "t"}}}
    ],
    "resolve": {"axis": {"x": "independent", "y": "independent"}}},
   {"width": 437, "height": 269,
    "layer": [
     {"data": {"name": "curves"}, "transform": [{"filter": "datum.p == 'bVCD'"}],
      "mark": {"type": "line", "color": "#000", "strokeWidth": 2, "interpolate": "monotone"},
      "encoding": {
       "x": {"field": "f", "type": "quantitative", "scale": {"domain": [1460, 1712, 3239, 3519], "range": [0, 305, 305, 437], "nice": false, "zero": false},
             "axis": {"orient": "bottom", "values": [1475,1500,1525,1550,1575,1600,1625,1650,1675,1700,3300,3350,3400,3450,3500], "format": "d", "labelExpr": "(datum.value < 2000 ? datum.value % 50 == 0 : datum.value % 100 == 0) ? datum.label : ''", "title": "Frequency (cm⁻¹)", "titleY": 49, "titleBaseline": "middle", "labelPadding": 4, "grid": true,
                      "gridColor": {"condition": {"test": "datum.value < 2000 ? datum.value % 50 == 0 : datum.value % 100 == 0", "value": "#5cbf5c"}, "value": "#d3e9d3"},
                      "gridDash": {"condition": {"test": "datum.value < 2000 ? datum.value % 50 == 0 : datum.value % 100 == 0", "value": [2, 2]}, "value": []}}},
       "y": {"field": "v", "type": "quantitative", "scale": {"domain": [-380, 359], "nice": false, "zero": false},
             "axis": {"orient": "left", "values": [-300,-200,-100,0,100,200,300], "format": "d", "labelExpr": "datum.value % 200 == 0 ? datum.label : ''", "title": "VCD strength", "titleX": -60, "titleBaseline": "middle", "labelPadding": 3}},
       "detail": {"field": "s"}}},
     {"data": {"name": "dots"}, "transform": [{"filter": "datum.p == 'bVCD'"}],
      "mark": {"type": "circle", "size": 24, "color": "#000", "opacity": 1},
      "encoding": {
       "x": {"field": "f", "type": "quantitative", "axis": {"orient": "top", "values": [1475,1500,1525,1550,1575,1600,1625,1650,1675,1700,3300,3350,3400,3450,3500], "labels": false, "title": null, "tickSize": -6}},
       "y": {"field": "v", "type": "quantitative", "axis": {"orient": "right", "values": [-300,-200,-100,0,100,200,300], "labels": false, "title": null, "tickSize": -6}}}},
     {"data": {"name": "dots"}, "transform": [{"filter": "datum.p == 'bVCD' && datum.l != ''"}],
      "mark": {"type": "text", "angle": 270, "align": "left", "baseline": "middle", "dx": 5, "fontSize": 12, "color": "#e4413f"},
      "encoding": {"x": {"field": "f", "type": "quantitative", "axis": null}, "y": {"field": "v", "type": "quantitative", "axis": null}, "text": {"field": "l"}}},
     {"data": {"name": "breaks"}, "transform": [{"filter": "datum.p == 'bVCD'"}],
      "mark": {"type": "text", "text": "//", "align": "center", "baseline": "middle", "fontSize": 15, "color": "#000"},
      "encoding": {"x": {"field": "f", "type": "quantitative", "axis": null}, "y": {"field": "v", "type": "quantitative", "axis": null}}}
    ],
    "resolve": {"axis": {"x": "independent", "y": "independent"}}}
  ], "spacing": 0, "bounds": "flush"}
],
"spacing": 37,
"align": "none"
}
